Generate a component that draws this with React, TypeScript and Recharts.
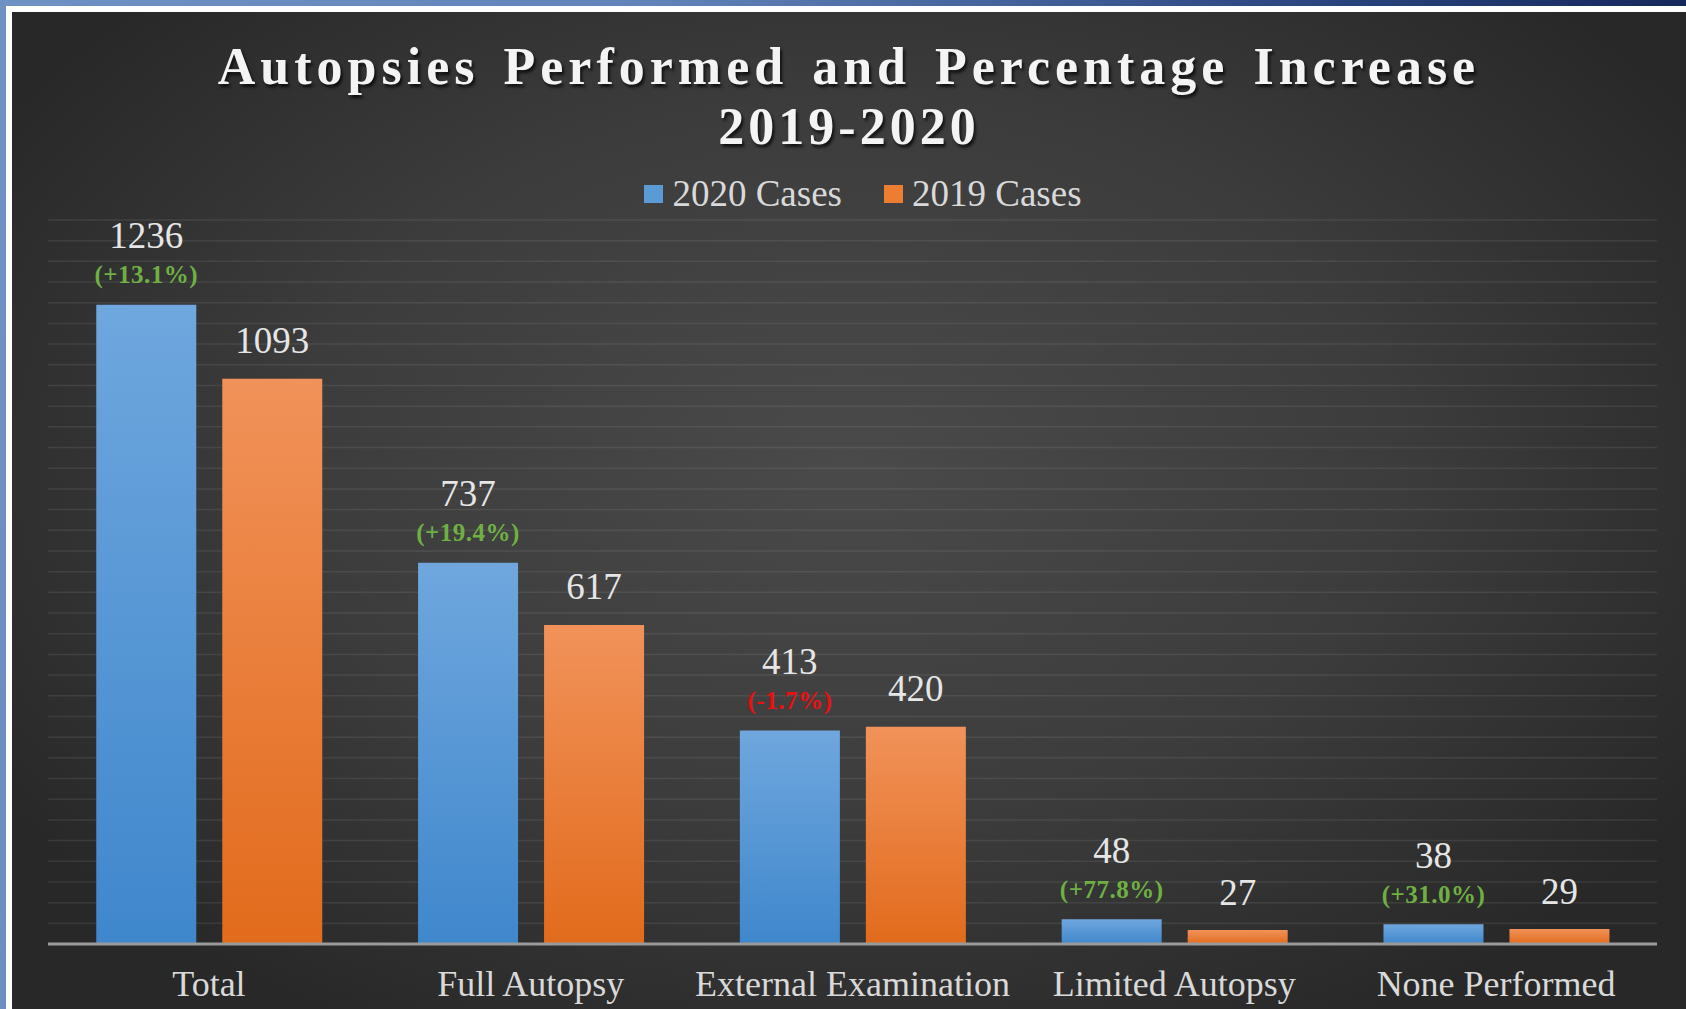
import { Bar, BarChart, CartesianGrid, LabelList, Legend, XAxis, YAxis } from "recharts";

const CATEGORIES = ["Total", "Full Autopsy", "External Examination", "Limited Autopsy", "None Performed"];
const CASES_2020 = [1236, 737, 413, 48, 38];
const CASES_2019 = [1093, 617, 420, 27, 29];
const PCT_CHANGE = ["+13.1%", "+19.4%", "-1.7%", "+77.8%", "+31.0%"];
const Y_TICKS = Array.from({ length: 36 }, (_, i) => i * 40);

const data = CATEGORIES.map((name, i) => ({
  name,
  y2020: CASES_2020[i],
  y2019: CASES_2019[i],
  pct: PCT_CHANGE[i],
}));

const SERIF = '"Liberation Serif", "Times New Roman", serif';
const BLUE = "#5b9bd5";
const ORANGE = "#ed7d31";

const W = 1674;
const H = 997;

const Label2020 = (props: any) => {
  const { x, y, width, index } = props;
  const cx = x + width / 2;
  const pct = PCT_CHANGE[index];
  const neg = pct.startsWith("-");
  return (
    <g>
      <text x={cx} y={y - 69} textAnchor="middle" dominantBaseline="central" fill="#e6e6e6" fontFamily={SERIF} fontSize={37}>
        {CASES_2020[index]}
      </text>
      <text
        x={cx}
        y={y - 30}
        textAnchor="middle"
        dominantBaseline="central"
        fill={neg ? "#e81010" : "#6fb043"}
        fontFamily={SERIF}
        fontSize={25}
        fontWeight="bold"
        letterSpacing={0.5}
      >
        ({pct})
      </text>
    </g>
  );
};

const Label2019 = (props: any) => {
  const { x, y, width, index } = props;
  return (
    <text x={x + width / 2} y={y - 38} textAnchor="middle" dominantBaseline="central" fill="#e6e6e6" fontFamily={SERIF} fontSize={37}>
      {CASES_2019[index]}
    </text>
  );
};

const CategoryTick = (props: any) => {
  const { x, y, payload } = props;
  return (
    <text x={x} y={y + 40} textAnchor="middle" dominantBaseline="central" fill="#d9d9d9" fontFamily={SERIF} fontSize={36}>
      {payload.value}
    </text>
  );
};

const renderLegend = () => (
  <div style={{ display: "flex", justifyContent: "center", alignItems: "center", fontFamily: SERIF, fontSize: 37, color: "#d9d9d9", paddingLeft: 28 }}>
    <span style={{ display: "inline-block", width: 19, height: 18, background: BLUE, marginRight: 9 }} />
    <span style={{ marginRight: 42 }}>2020 Cases</span>
    <span style={{ display: "inline-block", width: 19, height: 18, background: ORANGE, marginRight: 9 }} />
    <span>2019 Cases</span>
  </div>
);

export default function App() {
  return (
    <div
      style={{
        position: "fixed",
        left: 0,
        top: 0,
        width: 1686,
        height: 1009,
        background: "linear-gradient(100deg, #7091c4 0%, #6283ba 35%, #2a4680 70%, #0c1b4b 100%)",
      }}
    >
      <div style={{ position: "absolute", left: 6, top: 6, right: 0, bottom: 0, background: "#ffffff" }} />
      <div
        style={{
          position: "absolute",
          left: 12,
          top: 12,
          width: W,
          height: H,
          background: "radial-gradient(ellipse 60% 65% at 50% 45%, #4a4a4a 0%, #3c3c3c 55%, #282828 100%)",
          overflow: "hidden",
        }}
      >
        <div
          style={{
            position: "absolute",
            left: 0,
            top: 0,
            width: W,
            textAlign: "center",
            fontFamily: SERIF,
            fontWeight: "bold",
            color: "#f4f4f4",
            textShadow: "2px 3px 3px rgba(0,0,0,0.7)",
            zIndex: 2,
          }}
        >
          <div style={{ position: "absolute", top: 55, left: 0, width: W, fontSize: 52, lineHeight: "0px", letterSpacing: 5, wordSpacing: 6 }}>
            Autopsies Performed and Percentage Increase
          </div>
          <div style={{ position: "absolute", top: 115, left: 0, width: W, fontSize: 52, lineHeight: "0px", letterSpacing: 4 }}>
            2019-2020
          </div>
        </div>
        <BarChart
          width={W}
          height={H}
          data={data}
          margin={{ top: 208, right: 29, left: 36, bottom: 0 }}
          barCategoryGap="15%"
          barGap={26}
        >
          <defs>
            <linearGradient id="g2020" x1="0" y1="0" x2="0" y2="1">
              <stop offset="0%" stopColor="#6fa7de" />
              <stop offset="100%" stopColor="#3f87cc" />
            </linearGradient>
            <linearGradient id="g2019" x1="0" y1="0" x2="0" y2="1">
              <stop offset="0%" stopColor="#f1925a" />
              <stop offset="100%" stopColor="#e26b1c" />
            </linearGradient>
          </defs>
          <CartesianGrid vertical={false} stroke="rgba(255,255,255,0.08)" strokeWidth={1.5} />
          <XAxis
            dataKey="name"
            height={65}
            tickLine={false}
            tickSize={0}
            tickMargin={0}
            axisLine={{ stroke: "#9a9a9a", strokeWidth: 3 }}
            tick={<CategoryTick />}
            interval={0}
          />
          <YAxis hide domain={[0, 1400]} ticks={Y_TICKS} interval={0} />
          <Legend
            verticalAlign="middle"
            align="center"
            layout="horizontal"
            content={renderLegend}
            wrapperStyle={{ top: 160, left: 0, width: W, height: 40 }}
          />
          <Bar dataKey="y2020" name="2020 Cases" fill="url(#g2020)" isAnimationActive={false}>
            <LabelList dataKey="y2020" content={<Label2020 />} />
          </Bar>
          <Bar dataKey="y2019" name="2019 Cases" fill="url(#g2019)" isAnimationActive={false}>
            <LabelList dataKey="y2019" content={<Label2019 />} />
          </Bar>
        </BarChart>
      </div>
    </div>
  );
}
